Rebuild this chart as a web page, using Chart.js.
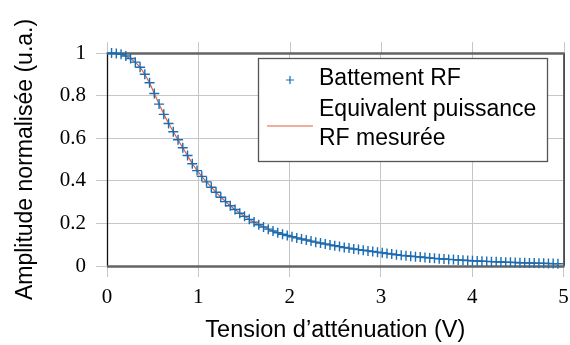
<!DOCTYPE html>
<html>
<head>
<meta charset="utf-8">
<script src="https://cdn.jsdelivr.net/npm/chart.js@4.4.1/dist/chart.umd.min.js"></script>
<style>
  body { margin: 0; background: #fff; }
  #wrap { width: 570px; height: 345px; }
</style>
</head>
<body>
<div id="wrap"><canvas id="myChart" width="570" height="345"></canvas></div>
<script>
// tension (V), one measure every ~0.052 V
const tension = [0.050, 0.102, 0.154, 0.206, 0.258, 0.310, 0.362, 0.414, 0.466, 0.518,
  0.570, 0.622, 0.674, 0.726, 0.778, 0.830, 0.882, 0.934, 0.986, 1.038,
  1.090, 1.142, 1.194, 1.246, 1.298, 1.350, 1.402, 1.454, 1.506, 1.558,
  1.610, 1.662, 1.714, 1.766, 1.818, 1.870, 1.922, 1.974, 2.026, 2.078,
  2.130, 2.182, 2.234, 2.286, 2.338, 2.390, 2.442, 2.494, 2.546, 2.598,
  2.650, 2.702, 2.754, 2.806, 2.858, 2.910, 2.962, 3.014, 3.066, 3.118,
  3.170, 3.222, 3.274, 3.326, 3.378, 3.430, 3.482, 3.534, 3.586, 3.638,
  3.690, 3.742, 3.794, 3.846, 3.898, 3.950, 4.002, 4.054, 4.106, 4.158,
  4.210, 4.262, 4.314, 4.366, 4.418, 4.470, 4.522, 4.574, 4.626, 4.678,
  4.730, 4.782, 4.834, 4.886, 4.938];

// battement RF (crosses)
const battement = [1.000, 0.998, 0.994, 0.986, 0.974, 0.957, 0.933, 0.900, 0.860, 0.810,
  0.760, 0.712, 0.669, 0.630, 0.593, 0.555, 0.519, 0.480, 0.448, 0.421,
  0.395, 0.370, 0.346, 0.323, 0.302, 0.283, 0.265, 0.248, 0.233, 0.219,
  0.206, 0.194, 0.183, 0.173, 0.164, 0.156, 0.149, 0.143, 0.137, 0.132,
  0.127, 0.122, 0.117, 0.112, 0.108, 0.103, 0.099, 0.095, 0.091, 0.087,
  0.084, 0.080, 0.077, 0.074, 0.071, 0.068, 0.065, 0.062, 0.059, 0.056,
  0.053, 0.050, 0.048, 0.046, 0.044, 0.042, 0.040, 0.038, 0.036, 0.034,
  0.033, 0.031, 0.030, 0.028, 0.027, 0.026, 0.025, 0.0235, 0.0225, 0.0215,
  0.0205, 0.0196, 0.0187, 0.0179, 0.0171, 0.0163, 0.0156, 0.0149, 0.0142, 0.0136,
  0.0130, 0.0124, 0.0119, 0.0113, 0.0108];

// equivalent puissance RF mesuree (red line) - sits right on the crosses
const puissance = [1.000, 0.998, 0.993, 0.985, 0.973, 0.956, 0.932, 0.899, 0.859, 0.810,
  0.761, 0.713, 0.670, 0.630, 0.592, 0.555, 0.518, 0.481, 0.449, 0.421,
  0.395, 0.370, 0.346, 0.324, 0.303, 0.283, 0.265, 0.249, 0.233, 0.219,
  0.206, 0.194, 0.183, 0.173, 0.164, 0.156, 0.149, 0.143, 0.137, 0.132,
  0.127, 0.122, 0.117, 0.112, 0.108, 0.103, 0.099, 0.095, 0.091, 0.087,
  0.084, 0.080, 0.077, 0.074, 0.071, 0.068, 0.065, 0.062, 0.059, 0.056,
  0.053, 0.050, 0.048, 0.046, 0.044, 0.042, 0.040, 0.038, 0.036, 0.034,
  0.033, 0.031, 0.030, 0.028, 0.027, 0.026, 0.025, 0.0235, 0.0225, 0.0215,
  0.0205, 0.0196, 0.0187, 0.0179, 0.0171, 0.0163, 0.0156, 0.0149, 0.0142, 0.0136,
  0.0130, 0.0124, 0.0119, 0.0113, 0.0108];

const xTicks = [0, 1, 2, 3, 4, 5];
const yTicks = [0, 0.2, 0.4, 0.6, 0.8, 1];
const yTickLabels = ['0', '0.2', '0.4', '0.6', '0.8', '1'];

const BLUE = '#1a6db4';
const RED = '#e0603a';
const GRID = '#c6c6c6';
const SANS = "'Liberation Sans', Arial, sans-serif";
const SERIF = "'Liberation Serif', 'Times New Roman', serif";

const toPoints = (xs, ys) => xs.map((v, i) => ({x: v, y: ys[i]}));

// frame: gray top/bottom, black left/right, ticks sticking out on top
const framePlugin = {
  id: 'frame',
  beforeDatasetsDraw(chart) {
    const {ctx, chartArea: a, scales: {x}} = chart;
    ctx.save();
    ctx.strokeStyle = GRID;
    ctx.lineWidth = 1;
    xTicks.forEach(v => {
      const px = Math.round(x.getPixelForValue(v)) + 0.5;
      ctx.beginPath();
      ctx.moveTo(px, a.top - 11);
      ctx.lineTo(px, a.top);
      ctx.stroke();
    });
    ctx.strokeStyle = '#111';
    ctx.lineWidth = 1.3;
    ctx.beginPath();
    ctx.moveTo(a.left + 0.5, a.top);
    ctx.lineTo(a.left + 0.5, a.bottom);
    ctx.moveTo(a.right + 0.5, a.top);
    ctx.lineTo(a.right + 0.5, a.bottom);
    ctx.stroke();
    ctx.strokeStyle = '#646464';
    ctx.lineWidth = 2.5;
    ctx.beginPath();
    ctx.moveTo(a.left, a.top + 0.5);
    ctx.lineTo(a.right + 1, a.top + 0.5);
    ctx.moveTo(a.left, a.bottom + 0.5);
    ctx.lineTo(a.right + 1, a.bottom + 0.5);
    ctx.stroke();
    ctx.restore();
  }
};

// legend box drawn by hand (second label is on two lines)
const legendPlugin = {
  id: 'legendBox',
  afterDraw(chart) {
    const {ctx, chartArea: a} = chart;
    const sets = chart.data.datasets;
    const bx = a.left + 151, by = a.top + 5, bw = 289, bh = 103;
    ctx.save();
    ctx.fillStyle = '#fff';
    ctx.fillRect(bx, by, bw, bh);
    ctx.strokeStyle = '#555';
    ctx.lineWidth = 1.3;
    ctx.strokeRect(bx + 0.5, by + 0.5, bw, bh);

    // cross sample
    ctx.strokeStyle = sets[0].borderColor;
    ctx.lineWidth = 1.2;
    ctx.beginPath();
    ctx.moveTo(bx + 28, by + 22);
    ctx.lineTo(bx + 36, by + 22);
    ctx.moveTo(bx + 32, by + 18);
    ctx.lineTo(bx + 32, by + 26);
    ctx.stroke();

    // line sample
    ctx.strokeStyle = sets[1].borderColor;
    ctx.lineWidth = 1.2;
    ctx.beginPath();
    ctx.moveTo(bx + 9, by + 68);
    ctx.lineTo(bx + 55, by + 68);
    ctx.stroke();

    ctx.fillStyle = '#000';
    ctx.font = '23px ' + SANS;
    ctx.textBaseline = 'alphabetic';
    ctx.fillText(sets[0].label, bx + 61, by + 27);
    sets[1].label.split('\n').forEach((t, i) => {
      ctx.fillText(t, bx + 61, by + 58 + i * 28.5);
    });
    ctx.restore();
  }
};

const ctx = document.getElementById('myChart').getContext('2d');

new Chart(ctx, {
  type: 'scatter',
  data: {
    datasets: [{
      label: 'Battement RF',
      data: toPoints(tension, battement),
      pointStyle: 'cross',
      pointRadius: 5,
      pointBorderWidth: 1.4,
      borderColor: BLUE,
      backgroundColor: BLUE,
      showLine: false,
      clip: false,
      order: 0
    }, {
      type: 'line',
      label: 'Equivalent puissance\nRF mesurée',
      data: toPoints(tension, puissance),
      borderColor: RED,
      borderWidth: 1.2,
      pointRadius: 0,
      fill: false,
      tension: 0.3,
      clip: false,
      order: 1
    }]
  },
  options: {
    responsive: false,
    animation: false,
    layout: { padding: { top: 53, right: 3, left: 0, bottom: 0 } },
    plugins: {
      legend: { display: false },
      tooltip: { enabled: false }
    },
    scales: {
      x: {
        type: 'linear',
        min: 0,
        max: 5,
        afterBuildTicks: s => { s.ticks = xTicks.map(v => ({value: v})); },
        afterFit: s => { s.height = 79; s.paddingLeft = 0; s.paddingRight = 0; },
        grid: { color: GRID, tickColor: GRID, tickLength: 11, lineWidth: 1 },
        border: { display: false },
        ticks: {
          color: '#000',
          padding: 8,
          maxRotation: 0,
          autoSkip: false,
          font: { family: SERIF, size: 21 }
        },
        title: {
          display: true,
          text: 'Tension d’atténuation (V)',
          color: '#000',
          padding: { top: 0, bottom: 0 },
          font: { family: SANS, size: 23.5 }
        }
      },
      y: {
        type: 'linear',
        min: 0,
        max: 1,
        afterBuildTicks: s => { s.ticks = yTicks.map(v => ({value: v})); },
        afterFit: s => { s.width = 107; s.paddingTop = 0; s.paddingBottom = 0; },
        grid: { color: GRID, tickColor: GRID, tickLength: 11, lineWidth: 1 },
        border: { display: false },
        ticks: {
          color: '#000',
          padding: 10,
          autoSkip: false,
          font: { family: SERIF, size: 21 },
          callback: (v, i) => yTickLabels[i]
        },
        title: {
          display: true,
          text: 'Amplitude normalisée (u.a.)',
          color: '#000',
          padding: { top: 12, bottom: 0 },
          font: { family: SANS, size: 23 }
        }
      }
    }
  },
  plugins: [framePlugin, legendPlugin]
});
</script>
</body>
</html>
